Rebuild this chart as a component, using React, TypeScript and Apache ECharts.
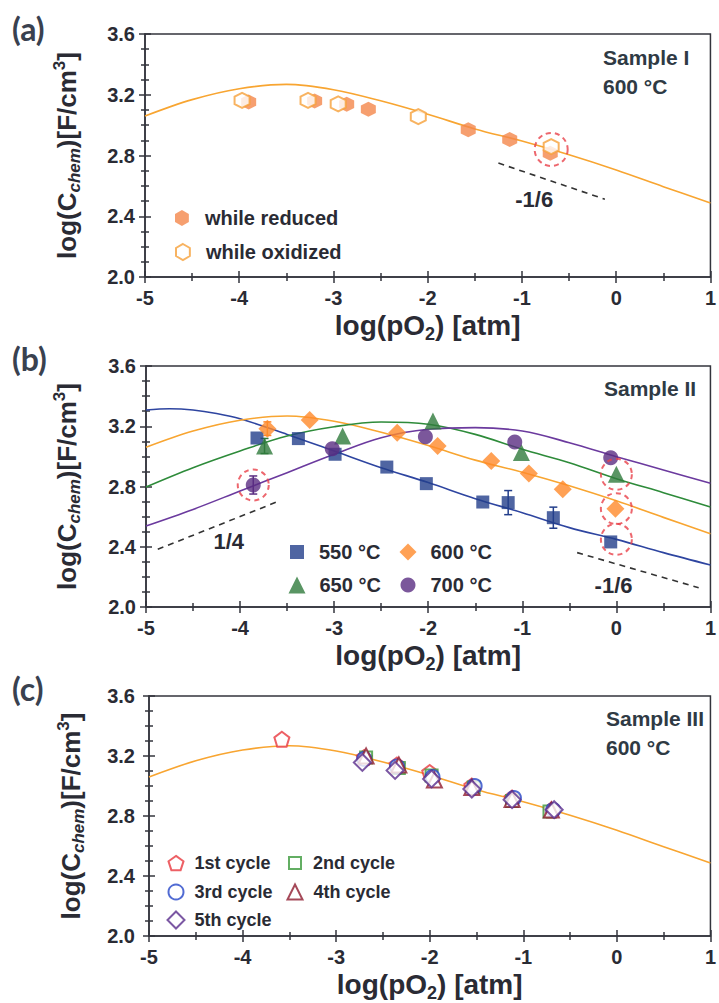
import React, { useEffect, useRef } from "react";
import * as echarts from "echarts";

// ---------------- data ----------------
const FIT_X = [-5, -4.5, -4, -3.5, -3, -2.5, -2, -1.5, -1, -0.5, 0, 0.5, 1];
const FIT_600 = [3.06, 3.168, 3.24, 3.268, 3.233, 3.16, 3.072, 2.975, 2.895, 2.805, 2.705, 2.595, 2.487];
const FIT_550_X = [-5, -4.75, -4.5, -4.25, -4, -3.5, -3, -2.5, -2, -1.5, -1, -0.5, 0, 0.5, 1];
const FIT_550 = [3.308, 3.316, 3.308, 3.285, 3.25, 3.146, 3.036, 2.925, 2.826, 2.719, 2.626, 2.527, 2.449, 2.361, 2.279];
const FIT_650 = [2.797, 2.925, 3.036, 3.135, 3.197, 3.228, 3.213, 3.146, 3.047, 2.958, 2.852, 2.759, 2.664];
const FIT_700 = [2.538, 2.648, 2.77, 2.892, 3.014, 3.124, 3.18, 3.191, 3.168, 3.091, 2.998, 2.91, 2.821];

// panel (a)
const RED_X = [-3.9, -3.2, -2.86, -2.63, -1.57, -1.13, -0.7];
const RED_Y = [3.152, 3.159, 3.137, 3.105, 2.97, 2.906, 2.814];
const OX_X = [-3.97, -3.27, -2.95, -2.1, -0.69];
const OX_Y = [3.163, 3.163, 3.14, 3.056, 2.858];
const A_CIRCLE = [[-0.69, 2.84]];
const A_SLOPE = [[-1.25, 2.75], [-0.12, 2.512]];
const A_SLOPE_LABEL = [-0.87, 2.508];

// panel (b)
const B550_X = [-3.82, -3.38, -2.99, -2.44, -2.02, -1.42, -1.15, -0.67, -0.06];
const B550_Y = [3.122, 3.118, 3.014, 2.929, 2.819, 2.697, 2.693, 2.593, 2.432];
const B550_E = [0, 0, 0, 0, 0, 0, 0.08, 0.07, 0];
const B600_X = [-3.71, -3.26, -2.33, -1.9, -1.33, -0.93, -0.57, -0.01];
const B600_Y = [3.184, 3.242, 3.157, 3.069, 2.969, 2.887, 2.781, 2.653];
const B600_E = [0.045, 0, 0, 0, 0, 0, 0, 0];
const B650_X = [-3.74, -2.91, -1.95, -1.01, 0.0];
const B650_Y = [3.069, 3.135, 3.235, 3.025, 2.881];
const B650_E = [0.05, 0, 0, 0, 0];
const B700_X = [-3.86, -3.02, -2.03, -1.08, -0.06];
const B700_Y = [2.81, 3.051, 3.131, 3.095, 2.991];
const B700_E = [0.06, 0, 0, 0, 0];
const B_CIRCLES = [[-3.86, 2.81], [0.0, 2.881], [0.0, 2.653], [0.0, 2.449]];
const B_SLOPE_UP = [[-4.875, 2.383], [-3.583, 2.704]];
const B_SLOPE_DN = [[-0.417, 2.361], [0.875, 2.128]];
const B_LABEL_UP = [-4.12, 2.432];
const B_LABEL_DN = [-0.03, 2.144];

// panel (c)
const C1_X = [-3.58, -2.7, -2.35, -2.0, -1.55, -1.12, -0.7];
const C1_Y = [3.312, 3.19, 3.14, 3.09, 3.0, 2.92, 2.84];
const C2_X = [-2.68, -2.33, -1.98, -1.53, -1.12, -0.72];
const C2_Y = [3.19, 3.12, 3.07, 2.99, 2.9, 2.83];
const C3_X = [-2.7, -2.35, -1.97, -1.52, -1.1, -0.68];
const C3_Y = [3.18, 3.13, 3.06, 3.0, 2.92, 2.84];
const C4_X = [-2.68, -2.33, -1.95, -1.55, -1.12, -0.7];
const C4_Y = [3.2, 3.14, 3.04, 2.99, 2.91, 2.84];
const C5_X = [-2.72, -2.37, -1.98, -1.55, -1.12, -0.67];
const C5_Y = [3.157, 3.104, 3.047, 2.98, 2.909, 2.842];

const X_MIN = -5;
const X_MAX = 1;
const Y_MIN = 2.0;
const Y_MAX = 3.6;

// ---------------- styles ----------------
const FONT = "Liberation Sans, Arial, Helvetica, sans-serif";
const TXT = "#2a2b34";
const AX = "#33343c";
const HEX = "path://M50,0L93.3,25L93.3,75L50,100L6.7,75L6.7,25Z";
const PENT = "path://M50,2L97.6,36.5L79.4,92.5L20.6,92.5L2.4,36.5Z";

const C_ORANGE_LINE = "#F8A531";
const C_RED_FILL = "#F4874B";
const C_OX = "#F6A03A";
const C_DASH_RED = "#E8414A";
const C_BLUE = "#233E8B";
const C_BLUE_LINE = "#2E45A0";
const C_ORANGE = "#FF8A2B";
const C_GREEN = "#2F7A3C";
const C_GREEN_LINE = "#2E8B3A";
const C_PURPLE = "#5A2D82";
const C_PURPLE_LINE = "#6B3A9E";

const zip = (xs: number[], ys: number[]) => xs.map((x, i) => [x, ys[i]]);

const GRIDS = [
  { left: 145, top: 34, width: 569, height: 243 },
  { left: 146, top: 366, width: 568, height: 241 },
  { left: 149, top: 696, width: 569, height: 240 },
];

const tickLine = { color: AX, width: 1.5 };

function xAxes(gi: number, nameGap: number) {
  const common = {
    gridIndex: gi,
    type: "value",
    min: X_MIN,
    max: X_MAX,
    interval: 1,
    splitLine: { show: false },
    position: "bottom",
  };
  return [
    {
      ...common,
      axisLine: { show: true, onZero: false, lineStyle: tickLine },
      axisTick: { show: true, inside: false, length: 6, lineStyle: tickLine },
      minorTick: { show: true, splitNumber: 2, length: 4, lineStyle: tickLine },
      axisLabel: {
        show: true,
        margin: 11,
        fontSize: 20,
        fontWeight: "bold",
        color: TXT,
        fontFamily: FONT,
        formatter: (v: number) => String(v),
      },
      name: "log(pO{sub|2}) [atm]",
      nameLocation: "middle",
      nameGap,
      nameTextStyle: {
        fontSize: 28,
        fontWeight: "bold",
        fontFamily: FONT,
        color: TXT,
        lineHeight: 34,
        rich: {
          sub: {
            fontSize: 18,
            fontWeight: "bold",
            fontFamily: FONT,
            color: TXT,
            verticalAlign: "bottom",
            lineHeight: 16,
          },
        },
      },
    },
    {
      ...common,
      axisLine: { show: false, onZero: false },
      axisTick: { show: true, inside: true, length: 6, lineStyle: tickLine },
      minorTick: { show: true, splitNumber: 2, length: 4, lineStyle: tickLine },
      axisLabel: { show: false },
    },
  ];
}

function yAxes(gi: number, labelMargin: number, nameGap: number) {
  const common = {
    gridIndex: gi,
    type: "value",
    min: Y_MIN,
    max: Y_MAX,
    interval: 0.4,
    splitLine: { show: false },
    position: "left",
  };
  return [
    {
      ...common,
      axisLine: { show: true, onZero: false, lineStyle: tickLine },
      axisTick: { show: true, inside: false, length: 6, lineStyle: tickLine },
      minorTick: { show: true, splitNumber: 4, length: 4, lineStyle: tickLine },
      axisLabel: {
        show: true,
        margin: labelMargin,
        fontSize: 20,
        fontWeight: "bold",
        color: TXT,
        fontFamily: FONT,
        formatter: (v: number) => v.toFixed(1),
      },
      name: "log(C{sub|chem})[F/cm{sup|3}]",
      nameLocation: "middle",
      nameRotate: 90,
      nameGap,
      nameTextStyle: {
        fontSize: 26,
        fontWeight: "bold",
        fontFamily: FONT,
        color: TXT,
        lineHeight: 32,
        rich: {
          sub: {
            fontSize: 17,
            fontWeight: "bold",
            fontStyle: "italic",
            fontFamily: FONT,
            color: TXT,
            verticalAlign: "bottom",
            lineHeight: 15,
          },
          sup: {
            fontSize: 17,
            fontWeight: "bold",
            fontFamily: FONT,
            color: TXT,
            verticalAlign: "top",
            lineHeight: 15,
          },
        },
      },
    },
    {
      ...common,
      axisLine: { show: false, onZero: false },
      axisTick: { show: true, inside: true, length: 6, lineStyle: tickLine },
      minorTick: { show: true, splitNumber: 4, length: 4, lineStyle: tickLine },
      axisLabel: { show: false },
    },
  ];
}

function fitLine(ax: number, xs: number[], ys: number[], color: string, name: string) {
  return {
    name,
    type: "line",
    xAxisIndex: ax,
    yAxisIndex: ax,
    data: zip(xs, ys),
    smooth: 0.35,
    showSymbol: false,
    symbol: "none",
    silent: true,
    lineStyle: { color, width: 1.6 },
    itemStyle: { color },
    z: 1,
  };
}

function dashLine(ax: number, pts: number[][], name: string) {
  return {
    name,
    type: "line",
    xAxisIndex: ax,
    yAxisIndex: ax,
    data: pts,
    showSymbol: false,
    symbol: "none",
    silent: true,
    lineStyle: { color: "#333", width: 1.6, type: [6, 5] },
    z: 1,
  };
}

function circles(ax: number, pts: number[][], name: string, size: number) {
  return {
    name,
    type: "scatter",
    xAxisIndex: ax,
    yAxisIndex: ax,
    data: pts,
    symbol: "circle",
    symbolSize: size,
    silent: true,
    itemStyle: {
      color: "rgba(0,0,0,0)",
      borderColor: C_DASH_RED,
      borderWidth: 2,
      borderType: [5, 4],
    },
    z: 5,
  };
}

function errBars(ax: number, xs: number[], ys: number[], es: number[], color: string, name: string) {
  const data = xs.map((x, i) => [x, ys[i], es[i]]).filter((d) => d[2] > 0);
  return {
    name,
    type: "custom",
    xAxisIndex: ax,
    yAxisIndex: ax,
    data,
    encode: { x: 0, y: 1 },
    silent: true,
    z: 2,
    renderItem: (_p: any, api: any) => {
      const x = api.value(0);
      const y = api.value(1);
      const e = api.value(2);
      const t = api.coord([x, y + e]);
      const b = api.coord([x, y - e]);
      const w = 4;
      const st = { stroke: color, lineWidth: 1.5 };
      return {
        type: "group",
        children: [
          { type: "line", shape: { x1: t[0], y1: t[1], x2: b[0], y2: b[1] }, style: st },
          { type: "line", shape: { x1: t[0] - w, y1: t[1], x2: t[0] + w, y2: t[1] }, style: st },
          { type: "line", shape: { x1: b[0] - w, y1: b[1], x2: b[0] + w, y2: b[1] }, style: st },
        ],
      };
    },
  };
}

function pts(ax: number, name: string, xs: number[], ys: number[], symbol: string, size: number, itemStyle: any) {
  return {
    name,
    type: "scatter",
    xAxisIndex: ax,
    yAxisIndex: ax,
    data: zip(xs, ys),
    symbol,
    symbolSize: size,
    itemStyle,
    z: 3,
  };
}

function legend(name: string, cx: number, cy: number, icon: number, fontSize: number, padLeft: number) {
  return {
    data: [name],
    left: cx - icon / 2,
    top: cy - 11,
    orient: "horizontal",
    padding: 0,
    itemWidth: icon,
    itemHeight: icon,
    selectedMode: false,
    textStyle: {
      fontSize,
      fontWeight: "bold",
      fontFamily: FONT,
      color: TXT,
      lineHeight: 22,
      padding: [0, 0, 0, padLeft],
    },
  };
}

function gtext(text: string, x: number, y: number, font: string, fill: string, align = "left") {
  return {
    type: "text",
    x,
    y,
    silent: true,
    z: 10,
    style: { text, font, fill, align, verticalAlign: "middle" },
  };
}

export default function App() {
  const ref = useRef<HTMLDivElement>(null);

  useEffect(() => {
    if (!ref.current) return;
    const chart = echarts.init(ref.current, null, { renderer: "svg" });

    const openStyle = (c: string) => ({ color: "#ffffff", borderColor: c, borderWidth: 2 });
    const LABEL_FONT = "bold 32px Lato, sans-serif";
    const SAMPLE_FONT = `bold 21px ${FONT}`;
    const ANN_FONT = `bold 22px ${FONT}`;

    const baseGraphic = [
      gtext("(a)", 12, 28, LABEL_FONT, "#39414f"),
      gtext("(b)", 12, 358, LABEL_FONT, "#39414f"),
      gtext("(c)", 12, 688, LABEL_FONT, "#39414f"),
      gtext("Sample I", 603, 57, SAMPLE_FONT, "#2f3a44"),
      gtext("600 °C", 603, 86, SAMPLE_FONT, "#2f3a44"),
      gtext("Sample II", 604, 388, SAMPLE_FONT, "#2f3a44"),
      gtext("Sample III", 606, 718, SAMPLE_FONT, "#2f3a44"),
      gtext("600 °C", 606, 747, SAMPLE_FONT, "#2f3a44"),
    ];

    const option: any = {
      animation: false,
      backgroundColor: "#ffffff",
      textStyle: { fontFamily: FONT },
      grid: GRIDS.map((g) => ({
        ...g,
        show: true,
        borderColor: AX,
        borderWidth: 1.5,
        backgroundColor: "rgba(0,0,0,0)",
        containLabel: false,
      })),
      xAxis: [...xAxes(0, 26), ...xAxes(1, 26), ...xAxes(2, 26)],
      yAxis: [...yAxes(0, 10, 62), ...yAxes(1, 10, 63), ...yAxes(2, 14, 62)],
      legend: [
        legend("while reduced", 183, 218, 16, 20, 10),
        legend("while oxidized", 183, 252, 16, 20, 10),
        legend("550 °C", 297, 552, 14, 20, 10),
        legend("600 °C", 408, 552, 17, 20, 9),
        legend("650 °C", 297, 585, 17, 20, 9),
        legend("700 °C", 408, 585, 15, 20, 10),
        legend("1st cycle", 175, 863, 15, 18, 6),
        legend("2nd cycle", 294, 863, 12, 18, 7),
        legend("3rd cycle", 175, 892, 15, 18, 6),
        legend("4th cycle", 294, 892, 15, 18, 6),
        legend("5th cycle", 175, 920, 17, 18, 5),
      ],
      graphic: baseGraphic,
      series: [
        // ---- panel (a)
        fitLine(0, FIT_X, FIT_600, C_ORANGE_LINE, "fit a"),
        dashLine(0, A_SLOPE, "slope a"),
        pts(0, "while reduced", RED_X, RED_Y, HEX, 15, { color: C_RED_FILL }),
        pts(0, "while oxidized", OX_X, OX_Y, HEX, 15, openStyle(C_OX)),
        circles(0, A_CIRCLE, "circle a", 33),
        // ---- panel (b)
        fitLine(2, FIT_550_X, FIT_550, C_BLUE_LINE, "fit 550"),
        fitLine(2, FIT_X, FIT_600, C_ORANGE_LINE, "fit 600"),
        fitLine(2, FIT_X, FIT_650, C_GREEN_LINE, "fit 650"),
        fitLine(2, FIT_X, FIT_700, C_PURPLE_LINE, "fit 700"),
        dashLine(2, B_SLOPE_UP, "slope b up"),
        dashLine(2, B_SLOPE_DN, "slope b dn"),
        errBars(2, B550_X, B550_Y, B550_E, C_BLUE, "err 550"),
        errBars(2, B600_X, B600_Y, B600_E, C_ORANGE, "err 600"),
        errBars(2, B650_X, B650_Y, B650_E, C_GREEN, "err 650"),
        errBars(2, B700_X, B700_Y, B700_E, C_PURPLE, "err 700"),
        pts(2, "550 °C", B550_X, B550_Y, "rect", 13, { color: C_BLUE }),
        pts(2, "600 °C", B600_X, B600_Y, "diamond", 18, { color: C_ORANGE }),
        pts(2, "650 °C", B650_X, B650_Y, "triangle", 17, { color: C_GREEN }),
        pts(2, "700 °C", B700_X, B700_Y, "circle", 15, { color: C_PURPLE }),
        circles(2, B_CIRCLES, "circles b", 31),
        // ---- panel (c)
        fitLine(4, FIT_X, FIT_600, C_ORANGE_LINE, "fit c"),
        pts(4, "1st cycle", C1_X, C1_Y, PENT, 15, openStyle("#E8383F")),
        pts(4, "2nd cycle", C2_X, C2_Y, "rect", 12, openStyle("#3C9A3C")),
        pts(4, "3rd cycle", C3_X, C3_Y, "circle", 14, openStyle("#2646C8")),
        pts(4, "4th cycle", C4_X, C4_Y, "triangle", 15, openStyle("#8E1C30")),
        pts(4, "5th cycle", C5_X, C5_Y, "diamond", 17, openStyle("#5A2D8C")),
      ],
    };

    chart.setOption(option);

    // slope annotations placed through the axes' own scales
    const ann: [number, number[], string][] = [
      [0, A_SLOPE_LABEL, "-1/6"],
      [2, B_LABEL_UP, "1/4"],
      [2, B_LABEL_DN, "-1/6"],
    ];
    const annGraphic = ann.map(([ax, p, t]) => {
      const px = chart.convertToPixel({ xAxisIndex: ax, yAxisIndex: ax }, p) as number[];
      return gtext(t, px[0], px[1], ANN_FONT, TXT, "center");
    });
    chart.setOption({ graphic: [...baseGraphic, ...annGraphic] });

    return () => {
      chart.dispose();
    };
  }, []);

  return (
    <div
      ref={ref}
      style={{ position: "absolute", left: 0, top: 0, width: 719, height: 1003, background: "#fff" }}
    />
  );
}
